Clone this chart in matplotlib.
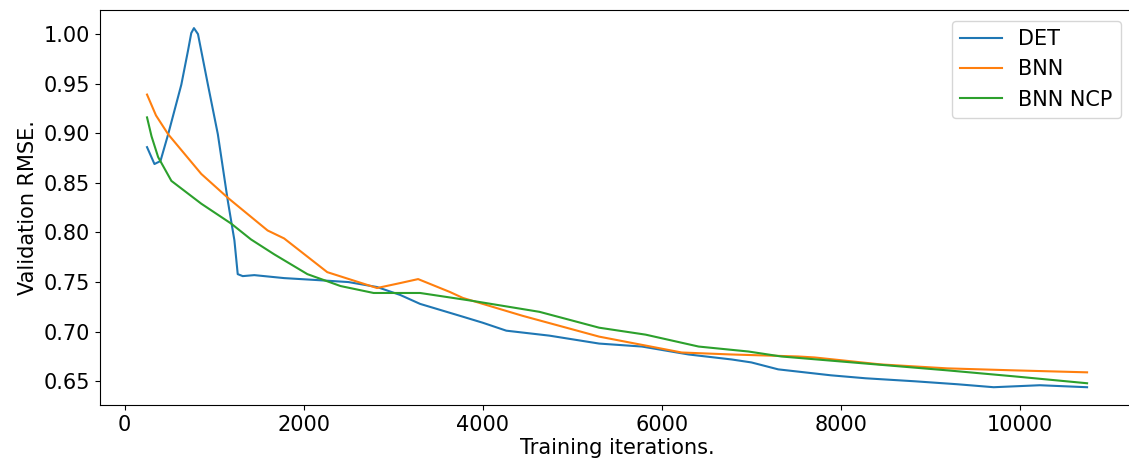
import matplotlib
matplotlib.use("Agg")
from matplotlib import pyplot as plt

# Valores
det_x = [250, 333, 400, 486, 633, 707, 744, 774, 819, 893, 930, 1041, 1152, 1226, 1263, 1319,
         1448, 1781, 2152, 2500, 2819, 3078, 3300, 3744, 4000, 4263, 4744, 5300, 5778, 6300,
         6778, 7000, 7300, 7889, 8278, 8822, 9300, 9707, 10222, 10750]
det_y = [0.886, 0.869, 0.872, 0.899, 0.949, 0.983, 1.001, 1.006, 1.000, 0.966, 0.949, 0.899,
         0.832, 0.792, 0.758, 0.756, 0.757, 0.754, 0.752, 0.750, 0.745, 0.737, 0.728, 0.716,
         0.709, 0.701, 0.696, 0.688, 0.685, 0.677, 0.672, 0.669, 0.662, 0.656, 0.653, 0.650,
         0.647, 0.644, 0.646, 0.644]

bnn_x = [250, 350, 486, 856, 1152, 1300, 1597, 1781, 2263, 2819, 3078, 3278, 3633, 3778, 4444,
         5300, 6222, 6778, 7522, 7707, 8444, 9189, 9930, 10750]
bnn_y = [0.939, 0.918, 0.899, 0.859, 0.835, 0.824, 0.802, 0.794, 0.760, 0.744, 0.749, 0.753,
         0.740, 0.734, 0.716, 0.695, 0.679, 0.677, 0.675, 0.674, 0.667, 0.663, 0.661, 0.659]

ncp_x = [250, 300, 374, 522, 856, 1189, 1411, 1670, 2041, 2411, 2781, 3078, 3300, 3889, 4633,
         5300, 5819, 6411, 6967, 7333, 8259, 9189, 9930, 10750]
ncp_y = [0.916, 0.897, 0.876, 0.852, 0.829, 0.809, 0.793, 0.778, 0.758, 0.746, 0.739, 0.739,
         0.739, 0.731, 0.720, 0.704, 0.697, 0.685, 0.680, 0.675, 0.668, 0.661, 0.655, 0.648]

plt.rcParams['font.size'] = 15

fig = plt.figure(figsize=(11.29, 4.62), dpi=100)
# el eje derecho queda fuera de la imagen, como en el original recortado
ax = fig.add_axes([0.0886, 0.123, 0.9159, 0.855])
ax.plot(det_x, det_y, label="DET")
ax.plot(bnn_x, bnn_y, label="BNN")
ax.plot(ncp_x, ncp_y, label="BNN NCP")
ax.set_xlabel("Training iterations.", labelpad=2)
ax.set_ylabel("Validation RMSE.")
ax.legend(loc="upper right", bbox_to_anchor=(0.9975, 1.0))
fig.savefig("out.png", dpi=100)
